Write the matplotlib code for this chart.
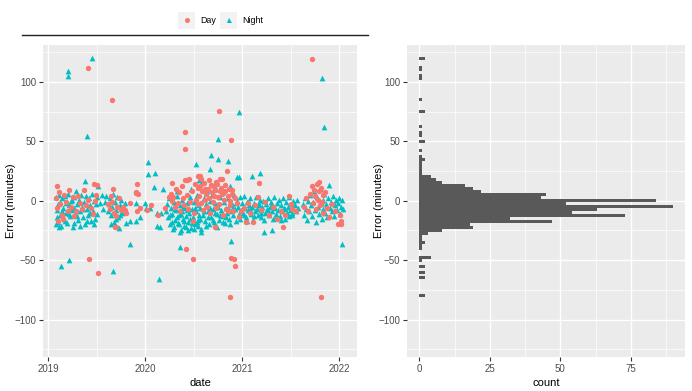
import matplotlib
matplotlib.use("Agg")
import matplotlib.pyplot as plt
from matplotlib.patches import Rectangle
from matplotlib.lines import Line2D
import numpy as np

plt.rcParams["font.family"] = ["Liberation Sans", "DejaVu Sans"]

# ---------------- data ----------------
series_names = ["Day", "Night"]
series_colors = ["#F8766D", "#00BFC4"]

night_points = [
    # outliers
    (2019.13, -54.7), (2019.21, -50), (2019.67, -59.5), (2019.84, -36.7), (2020.14, -66),
    (2020.36, -38.7), (2020.89, -34), (2021.23, -26.6), (2021.31, -24.7), (2022.03, -36.7),
    (2019.45, 120.4), (2019.20, 109.5), (2019.20, 105.2), (2019.40, 54.5), (2020.03, 32.6),
    (2020.03, 22.5), (2020.10, 23.6), (2020.52, 30.6), (2020.68, 38.5), (2020.75, 35),
    (2020.85, 33.4), (2020.75, 51.7), (2020.97, 74.4), (2021.82, 103), (2021.85, 62.3),
    (2020.67, 26.4), (2020.95, 20), (2020.97, 20), (2021.10, 20.8), (2021.18, 23.6),
    (2019.38, 16.8), (2021.90, 13), (2020.09, 11.3), (2020.18, 9.6),
    # 2019 first half
    (2019.08, -20), (2019.08, 3), (2019.09, -8), (2019.10, -3), (2019.10, -18), (2019.11, 5),
    (2019.12, -12), (2019.12, -1), (2019.13, -21), (2019.14, 2), (2019.15, -6), (2019.16, -15),
    (2019.17, 4), (2019.18, -10), (2019.18, -2), (2019.19, -19), (2019.20, 6), (2019.21, -4),
    (2019.22, -13), (2019.23, 0), (2019.24, -8), (2019.25, -22), (2019.26, 3), (2019.27, -6),
    (2019.28, -11), (2019.29, 8), (2019.30, -3), (2019.31, -16), (2019.32, 1), (2019.33, -9),
    (2019.34, 5), (2019.35, -5), (2019.36, -14), (2019.37, -1), (2019.38, -20), (2019.39, 4),
    (2019.40, -7), (2019.41, -12), (2019.42, 2), (2019.43, -4), (2019.44, -17), (2019.45, 6),
    (2019.46, -9), (2019.47, 0), (2019.48, -15), (2019.49, -3), (2019.50, 3), (2019.51, 12.4),
    (2019.50, -11),
    (2019.09, -14), (2019.11, -22), (2019.14, -9), (2019.17, -17), (2019.21, -11), (2019.24, 1),
    (2019.27, -19), (2019.30, -13), (2019.33, -21), (2019.36, -7), (2019.40, -17), (2019.43, -10),
    (2019.47, -20),
    # 2019 second half
    (2019.53, -2), (2019.55, 5), (2019.56, -7), (2019.58, -1), (2019.60, 4), (2019.62, -9),
    (2019.63, -3), (2019.64, 2), (2019.65, -12), (2019.66, -5), (2019.67, 6), (2019.68, -18),
    (2019.69, -1), (2019.70, -8), (2019.71, 3), (2019.72, -14), (2019.73, -23), (2019.74, -4),
    (2019.75, 1), (2019.76, -10), (2019.77, -6), (2019.79, -2), (2019.80, -19),
    (2019.65, -20), (2019.70, -15), (2019.74, -12),
    (2019.84, -16.8), (2019.90, -1.6), (2019.91, -17.1), (2019.95, -13.4), (2019.998, -2.2),
    (2020.01, -6.4), (2020.05, -6.4), (2020.12, -10.6), (2020.16, -10.1), (2020.12, -21),
    (2020.15, -21.8),
    # 2020 spring-summer
    (2020.21, -9), (2020.23, -3), (2020.24, -14), (2020.25, 2), (2020.26, -20), (2020.27, -6),
    (2020.28, -11), (2020.29, -24), (2020.30, -1), (2020.31, -16), (2020.32, -8), (2020.33, 4),
    (2020.34, -19), (2020.35, -12), (2020.36, -4), (2020.37, -25), (2020.38, -9), (2020.38, 1),
    (2020.39, -15), (2020.40, -21), (2020.41, -6), (2020.42, -13), (2020.43, -2), (2020.44, -18),
    (2020.45, -10), (2020.46, 3), (2020.47, -23), (2020.48, -7), (2020.49, -14), (2020.50, -1),
    (2020.51, -20), (2020.52, -9), (2020.53, 5), (2020.54, -16), (2020.55, -4), (2020.56, -12),
    (2020.33, 8), (2020.47, 10),
    (2020.26, -12), (2020.28, -18), (2020.30, -22), (2020.31, -7), (2020.33, -14), (2020.35, -20),
    (2020.36, -26), (2020.37, -11), (2020.39, -5), (2020.40, -17), (2020.42, -22), (2020.43, -8),
    (2020.44, -25), (2020.46, -15), (2020.48, -19), (2020.50, -24), (2020.51, -6), (2020.53, -18),
    (2020.55, -21), (2020.57, -15),
    # 2020 second half
    (2020.57, -6), (2020.58, -24), (2020.59, 16), (2020.60, -12), (2020.61, 2), (2020.62, -17),
    (2020.63, -3), (2020.64, 8), (2020.65, -9), (2020.66, -20), (2020.67, 0), (2020.68, -14),
    (2020.69, 5), (2020.70, -7), (2020.71, -18), (2020.72, -2), (2020.73, 10), (2020.74, -11),
    (2020.75, -5), (2020.76, -16), (2020.77, 3), (2020.78, -8), (2020.79, -13), (2020.80, 7),
    (2020.81, -1), (2020.82, -19), (2020.83, -6), (2020.84, -10), (2020.85, 2), (2020.86, -15),
    (2020.87, -4), (2020.88, 12), (2020.89, -9), (2020.90, -3), (2020.91, -12), (2020.92, 5),
    (2020.93, -7), (2020.94, -17), (2020.95, 0), (2020.96, -5), (2020.97, -11), (2020.98, 3),
    (2020.99, -8), (2020.56, 17.4), (2020.58, -26),
    (2020.61, -9), (2020.63, -21), (2020.65, -14), (2020.67, -6), (2020.70, -16), (2020.72, -10),
    (2020.74, -22), (2020.77, -12), (2020.80, -18), (2020.83, -14), (2020.86, -8), (2020.88, -20),
    (2020.91, -6), (2020.94, -2), (2020.98, -15),
    # 2021 first half
    (2021.00, -2), (2021.01, -10), (2021.02, 4), (2021.03, -6), (2021.04, -14), (2021.05, -1),
    (2021.06, -8), (2021.07, -4), (2021.08, 2), (2021.09, -11), (2021.10, -5), (2021.11, -16),
    (2021.12, -2), (2021.13, -9), (2021.14, 3), (2021.15, -7), (2021.16, -12), (2021.17, -3),
    (2021.18, 1), (2021.19, -8), (2021.20, -14), (2021.21, -5), (2021.22, 0), (2021.24, -10),
    (2021.25, -3), (2021.26, -7), (2021.27, 2), (2021.28, -12), (2021.29, -5), (2021.30, -1),
    (2021.31, -9), (2021.32, -15), (2021.33, 3), (2021.34, -6), (2021.35, -11), (2021.36, -2),
    (2021.37, -8), (2021.38, 1), (2021.39, -13), (2021.40, -4), (2021.41, -9), (2021.42, 2),
    (2021.43, -6), (2021.44, -15), (2021.45, -1), (2021.46, -10), (2021.47, -5), (2021.48, 3),
    (2021.49, -8), (2021.50, -3), (2021.51, -12), (2021.52, -6), (2021.53, 0),
    (2021.55, -4), (2021.56, -9), (2021.57, 1), (2021.58, -6),
    (2021.02, -12), (2021.05, -17), (2021.08, -7), (2021.12, -13), (2021.16, -4), (2021.20, -10),
    (2021.23, -16), (2021.27, -8), (2021.31, -4), (2021.35, -13), (2021.40, -16), (2021.44, -7),
    (2021.48, -13), (2021.52, -10),
    # late 2021 - early 2022
    (2021.63, -3), (2021.64, -12), (2021.65, 2), (2021.66, -7), (2021.67, -16), (2021.68, 0),
    (2021.69, -9), (2021.70, 5), (2021.71, -4), (2021.72, -13), (2021.73, -1), (2021.74, 8),
    (2021.75, -8), (2021.76, -18), (2021.77, 3), (2021.78, -5), (2021.79, -11), (2021.80, 10),
    (2021.81, -2), (2021.82, -15), (2021.83, 1), (2021.84, -7), (2021.85, 6), (2021.86, -10),
    (2021.87, -3), (2021.88, -14), (2021.89, 2), (2021.91, -6), (2021.92, -1),
    (2021.93, -9), (2021.94, 4), (2021.95, -13), (2021.96, -4), (2021.97, 1), (2021.98, -8),
    (2021.99, -2), (2022.00, 2), (2022.01, -11), (2022.02, -5), (2022.03, 1), (2022.04, -7),
]

day_points = [
    # outliers
    (2021.72, 119), (2019.41, 112), (2019.66, 85), (2020.76, 75.8), (2020.41, 58), (2020.41, 43.2),
    (2020.89, 51), (2020.84, 25), (2020.77, 18), (2020.79, 18.5), (2020.57, 20.8), (2020.43, 17),
    (2021.79, 16), (2021.17, 15), (2019.42, -49), (2019.51, -61), (2020.49, -49), (2020.42, -41),
    (2020.89, -48.5), (2020.92, -49), (2020.93, -55), (2020.88, -81), (2021.81, -81),
    (2021.42, -21.9), (2020.72, -22), (2022.02, -19.4), (2019.70, -22), (2019.09, 12.4),
    (2019.47, 14.3), (2019.50, 13), (2019.67, 10), (2019.92, 14.3), (2019.90, 7), (2019.93, 5.5),
    (2020.28, 15), (2020.55, 21),
    # 2019 first half
    (2019.08, 2), (2019.09, -6), (2019.10, -17), (2019.11, 7), (2019.12, -3), (2019.14, -12),
    (2019.15, -15), (2019.16, 5), (2019.18, -1), (2019.20, -9), (2019.21, 8.6), (2019.23, -5),
    (2019.25, 3), (2019.27, -13), (2019.29, -9), (2019.31, 4), (2019.33, -2), (2019.35, -7),
    (2019.37, 9), (2019.39, -4), (2019.41, 1), (2019.44, -6), (2019.46, -11), (2019.48, 0),
    (2019.49, 5),
    # 2019 second half
    (2019.62, -3), (2019.64, -7), (2019.65, 4), (2019.66, -1), (2019.68, -10), (2019.69, -22),
    (2019.70, -13), (2019.71, -5), (2019.73, 2), (2019.75, -8), (2019.77, -5), (2019.79, -8),
    (2019.80, -10), (2019.84, -2), (2019.91, 6.8), (2019.92, -9), (2019.95, -6),
    # 2020 first half
    (2020.02, -8), (2020.06, -4), (2020.13, -12), (2020.20, -6), (2020.25, 3),
    (2020.27, 6), (2020.28, 0), (2020.29, 3), (2020.31, -5), (2020.32, 10), (2020.34, -2),
    (2020.35, 7), (2020.36, -9), (2020.38, 12), (2020.39, 2), (2020.40, -4), (2020.41, 17.7),
    (2020.43, 5), (2020.44, -7), (2020.45, 18), (2020.46, -1), (2020.48, 8), (2020.49, -17),
    (2020.50, -10), (2020.51, 14), (2020.52, 1), (2020.54, -3), (2020.55, 11),
    # 2020 second half
    (2020.56, 4), (2020.57, 12), (2020.58, -2), (2020.59, 8), (2020.60, -8), (2020.61, 15),
    (2020.62, 1), (2020.63, 6), (2020.64, -5), (2020.65, 10), (2020.66, 2), (2020.67, -10),
    (2020.68, 13), (2020.69, 7), (2020.70, -1), (2020.71, 4), (2020.72, 9), (2020.73, -6),
    (2020.74, 14), (2020.75, 3), (2020.76, -3), (2020.78, 11), (2020.79, 6), (2020.80, -12),
    (2020.81, 1), (2020.82, 8), (2020.83, -7), (2020.85, 4), (2020.86, 10), (2020.87, -4),
    (2020.88, 0), (2020.90, 6), (2020.91, -9), (2020.93, 2), (2020.95, -2), (2020.97, -14),
    (2020.99, -9),
    (2020.58, 18), (2020.62, 10), (2020.66, 17), (2020.70, 12), (2020.73, 16), (2020.77, 8),
    (2020.82, 13), (2020.85, -9), (2020.90, 9),
    # 2021 first half
    (2021.02, -6), (2021.04, -18), (2021.06, -2), (2021.08, -10), (2021.11, -18), (2021.13, -4),
    (2021.16, 3), (2021.20, -8), (2021.24, -1), (2021.28, -12), (2021.32, -5), (2021.36, -15),
    (2021.40, -9), (2021.44, -12), (2021.48, 4), (2021.50, -3), (2021.52, -7), (2021.56, -9),
    # late 2021 - early 2022
    (2021.64, -5), (2021.66, 2), (2021.68, -9), (2021.70, 6), (2021.72, 12), (2021.73, -2),
    (2021.74, 9), (2021.75, 4), (2021.76, -7), (2021.77, 14), (2021.78, 1), (2021.79, 8),
    (2021.80, -4), (2021.81, 11), (2021.82, -1), (2021.83, 5), (2021.84, -10), (2021.86, 7),
    (2021.88, -6), (2021.90, -14), (2021.93, -3), (2021.96, -9), (2021.99, -19.8),
    (2022.01, -12), (2022.02, -17),
]

# histogram (bin centre in minutes, count)
hist_centers = [120, 112.5, 110, 105, 102.5, 85, 75, 62.5, 57.5, 55, 50, 42.5, 37.5, 35,
                32.5, 30, 27.5, 25, 22.5, 20, 17.5, 15, 12.5, 10, 7.5, 5, 2.5, 0,
                -2.5, -5, -7.5, -10, -12.5, -15, -17.5, -20, -22.5, -25, -27.5, -30,
                -32.5, -35, -37.5, -40, -47.5, -50, -55, -60, -65, -80]
hist_counts = [2, 1, 1, 1, 1, 1, 2, 1, 1, 1, 2, 1, 1, 2,
               1, 1, 1, 1, 1, 4, 6, 8, 16, 19, 22, 45, 43, 84,
               52, 90, 63, 54, 73, 32, 47, 18, 19, 8, 3, 1,
               1, 2, 1, 1, 4, 1, 2, 2, 2, 2]
hist_binwidth = 2.5

x_ticks = [2019, 2020, 2021, 2022]
x_minor = [2019.5, 2020.5, 2021.5]
y_ticks = [-100, -50, 0, 50, 100]
y_minor = [-125, -75, -25, 25, 75, 125]
count_ticks = [0, 25, 50, 75]
count_minor = [12.5, 37.5, 62.5, 87.5]

# ---------------- figure ----------------
W, H = 692, 391
fig = plt.figure(figsize=(W / 100, H / 100), dpi=100)
fig.patch.set_facecolor("white")

panel_bg = "#EBEBEB"
tick_col = "#4D4D4D"
tick_fs = 7.0
title_fs = 8.0


def style(ax):
    ax.set_facecolor(panel_bg)
    for s in ax.spines.values():
        s.set_visible(False)
    ax.grid(which="major", color="white", linewidth=1.0)
    ax.grid(which="minor", color="white", linewidth=0.5)
    ax.set_axisbelow(True)
    ax.tick_params(which="major", length=2.8, width=0.8, color="#333333",
                   labelsize=tick_fs, labelcolor=tick_col, pad=2)
    ax.tick_params(which="minor", length=0)


ax1 = fig.add_axes([43 / W, 1 - 357 / H, 314 / W, 312 / H])
ax2 = fig.add_axes([407 / W, 1 - 357 / H, 278 / W, 312 / H])
for ax, lx in ((ax1, (16 - 43) / 314), (ax2, (384 - 407) / 278)):
    style(ax)
    ax.set_ylim(-131.5, 131)
    ax.set_yticks(y_ticks)
    ax.set_yticks(y_minor, minor=True)
    ax.set_ylabel("Error (minutes)", fontsize=title_fs)
    ax.yaxis.set_label_coords(lx, 0.5)

nd = np.array(night_points)
dd = np.array(day_points)
ax1.scatter(nd[:, 0], nd[:, 1], s=17, marker="^", color=series_colors[1], linewidths=0, zorder=3)
ax1.scatter(dd[:, 0], dd[:, 1], s=15, marker="o", color=series_colors[0], linewidths=0, zorder=3)
ax1.set_xlim(2018.945, 2022.186)
ax1.set_xticks(x_ticks)
ax1.set_xticklabels([str(t) for t in x_ticks])
ax1.set_xticks(x_minor, minor=True)
ax1.set_xlabel("date", fontsize=title_fs, labelpad=3)

ax2.barh(hist_centers, hist_counts, height=hist_binwidth, left=0, color="#595959",
         linewidth=0, zorder=3)
ax2.set_xlim(-4.4, 94.2)
ax2.set_xticks(count_ticks)
ax2.set_xticks(count_minor, minor=True)
ax2.set_xlabel("count", fontsize=title_fs, labelpad=3)

# legend (drawn in pixel coords on an overlay)
ov = fig.add_axes([0, 0, 1, 1], facecolor="none")
ov.set_xlim(0, W)
ov.set_ylim(H, 0)
ov.axis("off")
keys = [(178, 187, "Day", "o"), (220, 229, "Night", "^")]
for i, (kx, mx, lab, mk) in enumerate(keys):
    ov.add_patch(Rectangle((kx, 12), 17, 17, facecolor="#F2F2F2", edgecolor="none"))
    ov.plot([mx], [20], marker=mk, markersize=3.6, color=series_colors[i], linestyle="none",
            markeredgewidth=0)
    ov.text(kx + 22, 20.5, lab, fontsize=6.4, va="center", ha="left", color="black")
ov.add_line(Line2D([21.5, 367.5], [35, 35], color="#222222", linewidth=1.0))

fig.savefig("out.png", dpi=100)
